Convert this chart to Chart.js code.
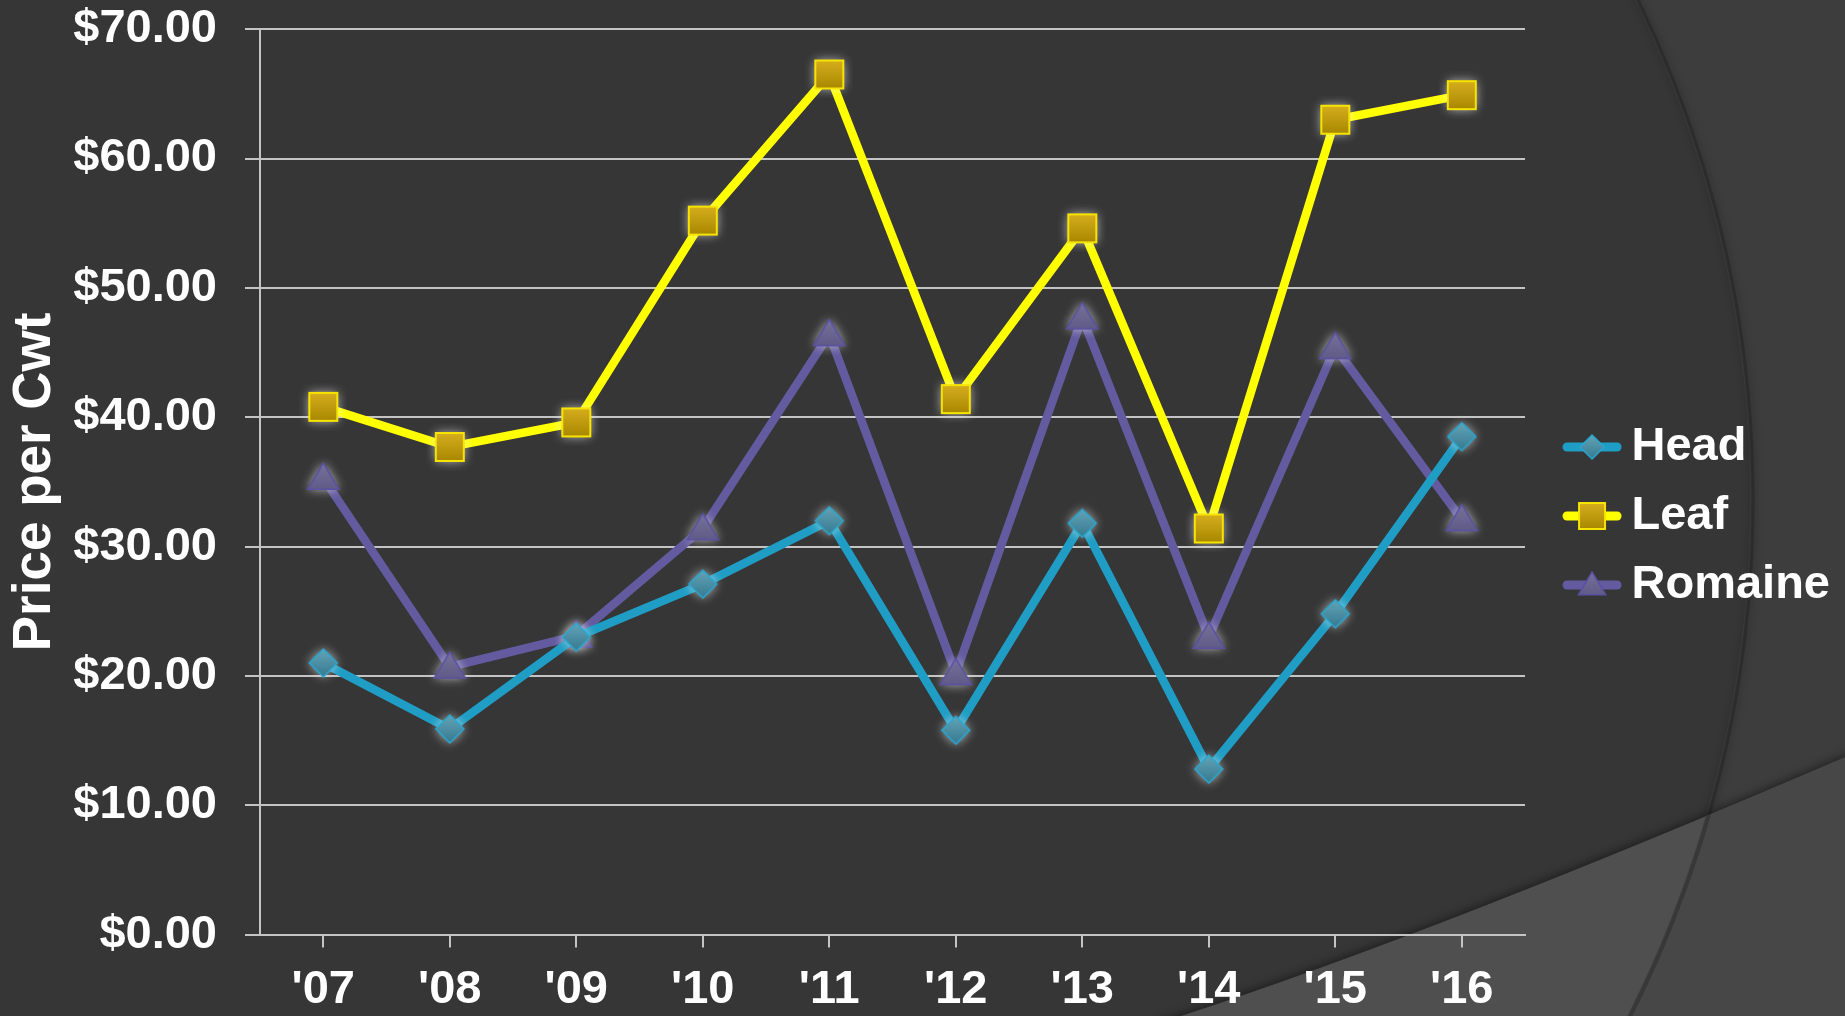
<!DOCTYPE html>
<html>
<head>
<meta charset="utf-8">
<script src="https://cdn.jsdelivr.net/npm/chart.js@4.4.0/dist/chart.umd.min.js"></script>
<style>
  html, body { margin: 0; padding: 0; background: #363636; overflow: hidden; }
  #wrap { position: relative; width: 1845px; height: 1016px; }
</style>
</head>
<body>
<div id="wrap"><canvas id="lettuce-chart"></canvas></div>
<script>
// lettuce prices, $ per cwt
const years         = ["'07", "'08", "'09", "'10", "'11", "'12", "'13", "'14", "'15", "'16"];
const headPrices    = [21.0, 15.9, 23.0, 27.1, 32.0, 15.8, 31.8, 12.8, 24.8, 38.5];
const leafPrices    = [40.8, 37.7, 39.6, 55.2, 66.5, 41.4, 54.6, 31.4, 63.0, 64.9];
const romainePrices = [35.3, 20.7, 23.1, 31.4, 46.4, 20.2, 47.7, 23.0, 45.4, 32.1];
const seriesNames   = ['Head', 'Leaf', 'Romaine'];

const FONT = { family: "'Liberation Sans', Arial, sans-serif", size: 47, weight: 'bold' };
const GRID = '#c4c4c4';

const STYLES = [
  { line: '#1f9dc4', shape: 'diamond',  top: '#63a3b7', bottom: '#367a8f', edge: '#27a8d2' },
  { line: '#ffff00', shape: 'square',   top: '#d6ae1e', bottom: '#a88800', edge: '#f7e400' },
  { line: '#635a9f', shape: 'triangle', top: '#77729b', bottom: '#5c5884', edge: '#5b50a3' },
];

/* ─── MARKERS (canvas images used as pointStyle) ─── */

function makeMarker(st, withLine) {
  const c = document.createElement('canvas');
  c.width = withLine ? 60 : 48;
  c.height = 48;
  const ctx = c.getContext('2d');
  const cx = c.width / 2, cy = c.height / 2;

  if (withLine) {
    ctx.strokeStyle = st.line;
    ctx.lineWidth = 9;
    ctx.lineCap = 'round';
    ctx.beginPath();
    ctx.moveTo(5, cy);
    ctx.lineTo(c.width - 5, cy);
    ctx.stroke();
  }

  ctx.save();
  if (!withLine) {
    ctx.shadowColor = 'rgba(240,240,240,0.75)';
    ctx.shadowBlur = 11;
  }
  ctx.beginPath();
  let h;
  if (st.shape === 'diamond') {
    h = withLine ? 12 : 14;
    ctx.moveTo(cx, cy - h); ctx.lineTo(cx + h, cy); ctx.lineTo(cx, cy + h); ctx.lineTo(cx - h, cy);
  } else if (st.shape === 'square') {
    h = withLine ? 13 : 14;
    ctx.rect(cx - h, cy - h, 2 * h, 2 * h);
  } else {
    h = withLine ? 13 : 15;
    ctx.moveTo(cx, cy - h); ctx.lineTo(cx + h * 1.05, cy + h * 0.75); ctx.lineTo(cx - h * 1.05, cy + h * 0.75);
  }
  ctx.closePath();
  const g = ctx.createLinearGradient(0, cy - h, 0, cy + h);
  g.addColorStop(0, st.top);
  g.addColorStop(1, st.bottom);
  ctx.fillStyle = g;
  ctx.fill();
  ctx.restore();
  ctx.lineWidth = st.shape === 'square' ? 2 : 1.5;
  ctx.strokeStyle = st.edge;
  ctx.stroke();
  return c;
}

const pointIcons  = STYLES.map(st => makeMarker(st, false));
const legendIcons = STYLES.map(st => makeMarker(st, true));

/* ─── BACKGROUND (theme arcs) ─── */

const backdrop = {
  id: 'backdrop',
  beforeDraw(chart) {
    const { ctx, width, height } = chart;
    ctx.save();
    ctx.fillStyle = '#3d3d3d';
    ctx.fillRect(0, 0, width, height);

    // big arc on the right
    ctx.beginPath();
    ctx.arc(606, 500, 1144, 0, Math.PI * 2);
    ctx.fillStyle = '#363636';
    ctx.fill();
    ctx.save();
    ctx.shadowColor = 'rgba(0,0,0,0.5)';
    ctx.shadowBlur = 8;
    ctx.strokeStyle = 'rgba(40,40,40,0.7)';
    ctx.lineWidth = 3;
    ctx.beginPath();
    ctx.arc(608, 500, 1145, 0, Math.PI * 2);
    ctx.stroke();
    ctx.restore();

    // lower band
    const band = new Path2D();
    band.moveTo(1150, height + 10);
    band.quadraticCurveTo(1420, 940, width + 5, 755);
    band.lineTo(width + 5, height + 10);
    band.closePath();
    ctx.save();
    ctx.shadowColor = 'rgba(0,0,0,0.45)';
    ctx.shadowBlur = 10;
    ctx.shadowOffsetY = -2;
    ctx.fillStyle = '#4f4f4f';
    ctx.fill(band);
    ctx.restore();

    ctx.save();
    ctx.clip(band);
    const outside = new Path2D();
    outside.rect(0, 0, width, height);
    outside.arc(606, 500, 1144, 0, Math.PI * 2);
    ctx.fillStyle = '#474747';
    ctx.fill(outside, 'evenodd');
    ctx.strokeStyle = 'rgba(30,30,30,0.35)';
    ctx.lineWidth = 4;
    ctx.beginPath();
    ctx.arc(608, 500, 1145, 0, Math.PI * 2);
    ctx.stroke();
    ctx.restore();

    ctx.restore();
  }
};

/* ─── CHART ─── */

const prices = [headPrices, leafPrices, romainePrices];

new Chart(document.getElementById('lettuce-chart'), {
  type: 'line',
  data: {
    labels: years,
    datasets: seriesNames.map((name, i) => ({
      label: name,
      data: prices[i],
      borderColor: STYLES[i].line,
      backgroundColor: STYLES[i].line,
      borderWidth: 8.5,
      tension: 0,
      pointStyle: pointIcons[i],
      pointRadius: 13,
      fill: false,
    }))
  },
  options: {
    responsive: true,
    maintainAspectRatio: false,
    animation: false,
    layout: { padding: { left: 0, right: 5, top: 0, bottom: -16 } },
    plugins: {
      legend: {
        position: 'right',
        labels: {
          usePointStyle: true,
          pointStyleWidth: 32,
          padding: 22,
          color: '#ffffff',
          font: FONT,
          generateLabels: chart => chart.data.datasets.map((ds, i) => ({
            text: ds.label,
            pointStyle: legendIcons[i],
            fillStyle: ds.borderColor,
            strokeStyle: ds.borderColor,
            lineWidth: 0,
            fontColor: '#ffffff',
            hidden: false,
            datasetIndex: i,
          }))
        }
      },
      tooltip: { enabled: false }
    },
    scales: {
      x: {
        offset: true,
        grid: { drawOnChartArea: false, tickLength: 13, color: GRID, lineWidth: 2 },
        border: { color: GRID, width: 2 },
        ticks: { color: '#ffffff', font: FONT, padding: 14, maxRotation: 0 }
      },
      y: {
        min: 0,
        max: 70,
        ticks: {
          stepSize: 10,
          color: '#ffffff',
          font: { ...FONT, lineHeight: 0.05 },
          padding: 28,
          callback: v => '$' + Number(v).toFixed(2)
        },
        grid: { color: GRID, lineWidth: 2, tickLength: 15 },
        border: { color: GRID, width: 2 },
        title: { display: true, text: 'Price per Cwt', color: '#ffffff', font: { ...FONT, size: 53 } },
        afterFit: s => { s.width = 260; }
      },
      gap: {
        position: 'right',
        grid: { display: false },
        ticks: { display: false },
        border: { display: false },
        afterFit: s => { s.width = 29; }
      }
    }
  },
  plugins: [backdrop]
});
</script>
</body>
</html>
